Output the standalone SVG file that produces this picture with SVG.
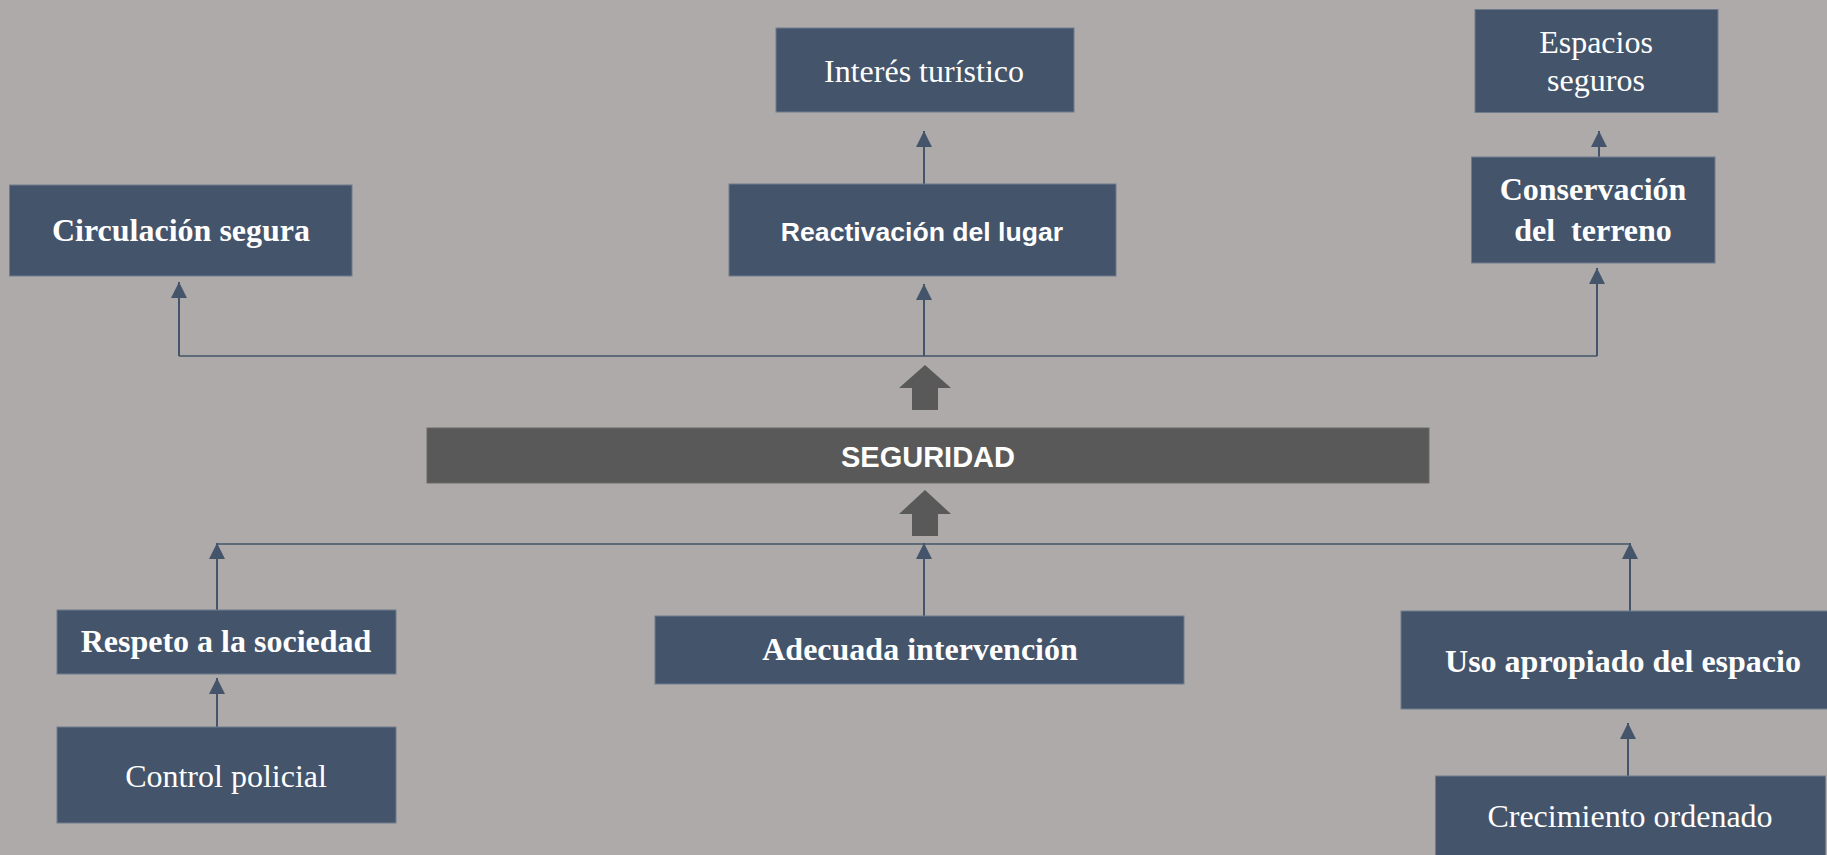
<svg xmlns="http://www.w3.org/2000/svg" width="1827" height="855" viewBox="0 0 1827 855">
<defs>
<style>
.box{fill:#44546a;stroke:#6f7c8e;stroke-width:1}
.ser{font-family:"Liberation Serif","Times New Roman",serif;font-size:32px;fill:#ffffff;text-anchor:middle}
.b{font-weight:bold}
.sans{font-family:"Liberation Sans",Arial,sans-serif;font-weight:bold;fill:#ffffff;text-anchor:middle}
.ln{fill:none;stroke:#44546a;stroke-width:2}
.hl{fill:none;stroke:#44546a;stroke-width:1.4}
.blk{fill:#595959}
</style>
<marker id="ah" markerUnits="userSpaceOnUse" markerWidth="17" markerHeight="17" viewBox="0 0 16 16" refX="15" refY="8" orient="auto">
<path d="M0,0.5 L15,8 L0,15.5 z" fill="#44546a"/>
</marker>
</defs>
<rect x="0" y="0" width="1827" height="855" fill="#aeaaa9"/>

<g id="connectors">
<path class="hl" d="M179,356 H1597"/>
<path class="ln" d="M179,356 V282" marker-end="url(#ah)"/>
<path class="ln" d="M924,356 V284" marker-end="url(#ah)"/>
<path class="ln" d="M1597,356 V268" marker-end="url(#ah)"/>
<path class="ln" d="M924,184 V131" marker-end="url(#ah)"/>
<path class="ln" d="M1599,157 V131" marker-end="url(#ah)"/>
<path class="hl" d="M217,544 H1630"/>
<path class="ln" d="M217,610 V543" marker-end="url(#ah)"/>
<path class="ln" d="M924,616 V543" marker-end="url(#ah)"/>
<path class="ln" d="M1630,611 V543" marker-end="url(#ah)"/>
<path class="ln" d="M217,727 V678" marker-end="url(#ah)"/>
<path class="ln" d="M1628,776 V723" marker-end="url(#ah)"/>
<polygon class="blk" points="925,365 951,388 938,388 938,410 912,410 912,388 899,388"/>
<polygon class="blk" points="925,490 951,514 938,514 938,536 912,536 912,514 899,514"/>
</g>

<g id="circulacion">
<rect class="box" x="9.5" y="185" width="342.5" height="91"/>
<text class="ser b" x="181" y="241">Circulación segura</text>
</g>

<g id="interes">
<rect class="box" x="776" y="28" width="298" height="84"/>
<text class="ser" x="924" y="82">Interés turístico</text>
</g>

<g id="reactivacion">
<rect class="box" x="729" y="184" width="387" height="92"/>
<text class="sans" x="922" y="241" font-size="26.6">Reactivación del lugar</text>
</g>

<g id="espacios">
<rect class="box" x="1475" y="9.5" width="243" height="103"/>
<text class="ser" x="1596" y="53">Espacios</text>
<text class="ser" x="1596" y="91">seguros</text>
</g>

<g id="conservacion">
<rect class="box" x="1471.5" y="157" width="243.5" height="106"/>
<text class="ser b" x="1593" y="200">Conservación</text>
<text class="ser b" x="1593" y="241" xml:space="preserve">del  terreno</text>
</g>

<g id="seguridad">
<rect x="427" y="428" width="1002" height="55" fill="#595959" stroke="#6a6a6a" stroke-width="1"/>
<text class="sans" x="928" y="467" font-size="29">SEGURIDAD</text>
</g>

<g id="respeto">
<rect class="box" x="57" y="610" width="339" height="64"/>
<text class="ser b" x="226" y="652">Respeto a la sociedad</text>
</g>

<g id="control">
<rect class="box" x="57" y="727" width="339" height="96"/>
<text class="ser" x="226" y="787">Control policial</text>
</g>

<g id="adecuada">
<rect class="box" x="655" y="616" width="529" height="68"/>
<text class="ser b" x="920" y="660">Adecuada intervención</text>
</g>

<g id="uso">
<rect class="box" x="1401" y="611" width="445" height="98"/>
<text class="ser b" x="1623" y="672">Uso apropiado del espacio</text>
</g>

<g id="crecimiento">
<rect class="box" x="1435.5" y="776" width="390" height="90"/>
<text class="ser" x="1630" y="827">Crecimiento ordenado</text>
</g>
</svg>
